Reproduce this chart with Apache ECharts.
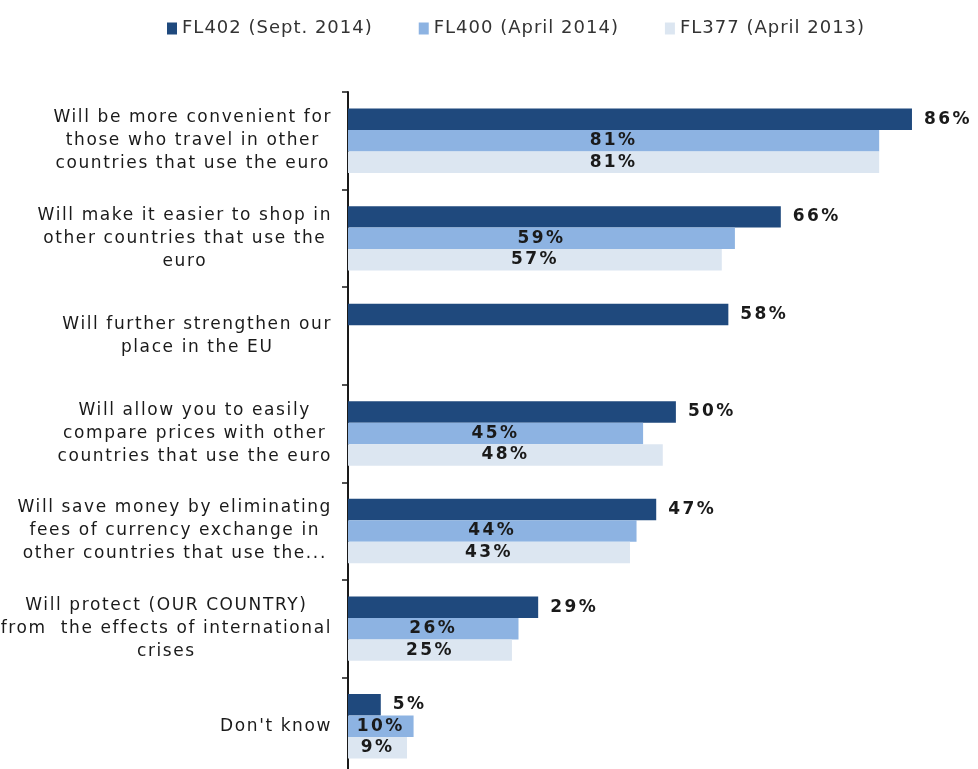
<!DOCTYPE html>
<html>
<head>
<meta charset="utf-8">
<script src="https://cdn.jsdelivr.net/npm/echarts@6/dist/echarts.min.js"></script>
<style>
  html, body { margin: 0; padding: 0; background: #ffffff; }
  #chart { width: 978px; height: 769px; }
</style>
</head>
<body>
<div id="chart"></div>
<script>
// Perceived advantages of the euro, three survey waves
const categories = [
  'Will be more convenient for\nthose who travel in other\ncountries that use the euro',
  'Will make it easier to shop in\nother countries that use the\neuro',
  'Will further strengthen our\nplace in the EU',
  'Will allow you to easily\ncompare prices with other\ncountries that use the euro',
  'Will save money by eliminating\nfees of currency exchange in\nother countries that use the...',
  'Will protect (OUR COUNTRY)\nfrom  the effects of international\ncrises',
  "Don't know"
];
const seriesNames = ['FL402 (Sept. 2014)', 'FL400 (April 2014)', 'FL377 (April 2013)'];
const fl402 = [86, 66, 58, 50, 47, 29, 5];
const fl400 = [81, 59, null, 45, 44, 26, 10];
const fl377 = [81, 57, null, 48, 43, 25, 9];

const colors = ['#1f497d', '#8db3e2', '#dce6f1'];
const FONT = 'DejaVu Sans, Verdana, sans-serif';

// Loose, Verdana-like tracking: letter spacing per font size/weight,
// applied whenever a canvas context font is set (so measuring and drawing agree).
const TRACKING = { 'normal-17': 1.6, 'bold-17': 2.4, 'normal-18': 1 };
(function () {
  const proto = CanvasRenderingContext2D.prototype;
  const desc = Object.getOwnPropertyDescriptor(proto, 'font');
  if (!desc || !('letterSpacing' in proto)) return;
  Object.defineProperty(proto, 'font', {
    configurable: true,
    get() { return desc.get.call(this); },
    set(v) {
      desc.set.call(this, v);
      const m = /(\d+(?:\.\d+)?)px/.exec(v || '');
      const weight = /bold/.test(v || '') ? 'bold' : 'normal';
      const key = m ? weight + '-' + Math.round(parseFloat(m[1])) : '';
      this.letterSpacing = (TRACKING[key] || 0) + 'px';
    }
  });
})();

function labelLines(text) {
  return text.split('\n').map(l => '{c|' + l + '}').join('\n');
}

const valueLabel = (position, distance) => ({
  show: true,
  position: position,
  distance: distance,
  formatter: p => p.value + '%',
  fontFamily: FONT,
  fontWeight: 'bold',
  fontSize: 17,
  color: '#1a1a1a'
});

const chart = echarts.init(document.getElementById('chart'), null, { renderer: 'canvas' });
chart.setOption({
  animation: false,
  color: colors,
  legend: {
    top: 14,
    left: 162,
    itemWidth: 10,
    itemHeight: 12,
    itemGap: 46,
    icon: 'rect',
    textStyle: { fontFamily: FONT, fontSize: 18, color: '#333333' },
    data: seriesNames
  },
  grid: { left: 348, top: 92, width: 590.2, height: 683, outerBoundsMode: 'none', containLabel: false },
  xAxis: {
    type: 'value',
    min: 0,
    max: 90,
    show: false
  },
  yAxis: {
    type: 'category',
    inverse: true,
    data: categories,
    axisLine: { show: true, lineStyle: { color: '#1a1a1a', width: 2 } },
    axisTick: { show: true, length: 6, lineStyle: { color: '#1a1a1a', width: 1.5 } },
    axisLabel: {
      margin: 16,
      formatter: labelLines,
      rich: {
        c: { align: 'center', fontFamily: FONT, fontSize: 17, lineHeight: 23, color: '#1a1a1a' }
      }
    },
    splitLine: { show: false }
  },
  series: [
    { name: seriesNames[0], type: 'bar', data: fl402, barGap: '0%', barCategoryGap: '34%', label: valueLabel('right', 12) },
    { name: seriesNames[1], type: 'bar', data: fl400, barGap: '0%', barCategoryGap: '34%', label: valueLabel('inside', 0) },
    { name: seriesNames[2], type: 'bar', data: fl377, barGap: '0%', barCategoryGap: '34%', label: valueLabel('inside', 0) }
  ]
});
</script>
</body>
</html>
